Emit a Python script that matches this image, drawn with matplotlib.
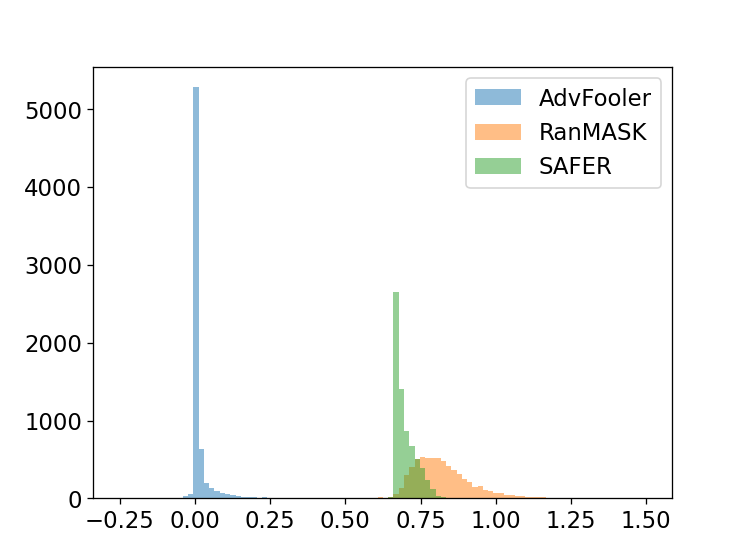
import numpy as np
import matplotlib
matplotlib.use('Agg')
import matplotlib.pyplot as plt

# 100 shared bins from -0.25 to 1.5
bin_start = -0.25
bin_stop = 1.5
n_bins = 100

labels = ['AdvFooler', 'RanMASK', 'SAFER']

advfooler_counts = [
    1, 0, 0, 0, 0, 0, 0, 1, 1, 2,
    5, 8, 30, 50, 5280, 630, 198, 134, 95, 64,
    56, 43, 35, 22, 20, 12, 10, 15, 8, 6,
    5, 4, 3, 2, 2, 1, 1, 1, 1, 1,
    1, 1, 0, 1, 0, 1, 0, 0, 0, 0,
] + [0] * 50

ranmask_counts = [0] * 30 + [
    0, 0, 0, 0, 0, 0, 2, 2, 3, 2,
    3, 4, 3, 4, 5, 4, 6, 8, 10, 12,
    10, 15, 50, 128, 305, 405, 505, 525, 515, 520,
    520, 480, 410, 365, 315, 255, 205, 150, 155, 105,
    100, 75, 72, 45, 42, 30, 28, 17, 16, 15,
    14, 8, 6, 3, 2, 1, 1, 0, 1, 0,
    0, 0, 0, 0, 0, 0, 0, 0, 0, 1,
]

safer_counts = [0] * 50 + [
    5, 20, 2650, 1400, 860, 670, 512, 385, 235, 125,
    35, 15, 5, 2, 0, 0, 0, 0, 0, 0,
] + [0] * 30

plt.rcParams['font.size'] = 14

edges = np.linspace(bin_start, bin_stop, n_bins + 1)
centers = (edges[:-1] + edges[1:]) / 2

fig, ax = plt.subplots(figsize=(6.4, 4.8), dpi=116.75)

for name, counts in zip(labels, [advfooler_counts, ranmask_counts, safer_counts]):
    ax.hist(centers, bins=edges, weights=counts, alpha=0.5, label=name)

ax.legend(loc='upper right')
fig.savefig('out.png')
